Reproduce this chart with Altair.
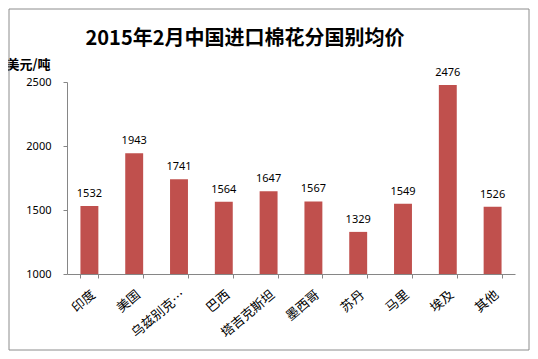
import altair as alt
import pandas as pd

countries = ["印度", "美国", "乌兹别克斯坦", "巴西", "塔吉克斯坦", "墨西哥", "苏丹", "马里", "埃及", "其他"]
prices = [1532, 1943, 1741, 1564, 1647, 1567, 1329, 1549, 2476, 1526]

df = pd.DataFrame({"country": countries, "price": prices})

W, H = 448, 192
FONT_CJK = "Noto Sans CJK SC"
FONT_NUM = "Noto Sans"

base = alt.Chart(df).encode(
    x=alt.X("country:N", sort=countries, title=None,
            scale=alt.Scale(paddingInner=0.6, paddingOuter=0.3),
            axis=alt.Axis(labelAngle=-40, labelAlign="right", labelBaseline="top",
                          labelPadding=10, labelFont=FONT_CJK, labelFontSize=13,
                          labelColor="#000000", labelLimit=67, tickBand="extent",
                          tickSize=4, tickColor="#868686", domainColor="#868686")),
)

bars = base.mark_bar(color="#C0504D").encode(
    y=alt.Y("price:Q", title="美元/吨",
            scale=alt.Scale(domain=[1000, 2500], nice=False, zero=False),
            axis=alt.Axis(values=[1000, 1500, 2000, 2500], grid=False, format="d",
                          labelFont=FONT_NUM, labelFontSize=11, labelColor="#000000",
                          labelPadding=12, tickSize=4, tickColor="#868686",
                          domainColor="#868686",
                          titleAngle=0, titleAlign="left", titleBaseline="alphabetic",
                          titleX=-61, titleY=-14, titleFont=FONT_CJK, titleFontSize=13,
                          titleFontWeight="bold", titleColor="#000000")),
    y2=alt.datum(1000),
)

labels = base.mark_text(font=FONT_NUM, fontSize=11, color="#000000",
                        baseline="alphabetic", dy=-9).encode(
    y=alt.Y("price:Q"),
    text=alt.Text("price:Q", format="d"),
)

frame = alt.Chart(pd.DataFrame({"a": [0]})).mark_rect(
    fill=None, stroke="#8c8c8c", strokeWidth=1).encode(
    x=alt.value(-58), x2=alt.value(462), y=alt.value(-73), y2=alt.value(268))

chart = alt.layer(frame, bars, labels).properties(
    width=W, height=H,
    title=alt.TitleParams("2015年2月中国进口棉花分国别均价", font=FONT_CJK, fontSize=20,
                          fontWeight="bold", color="#000000", anchor="middle", dx=-46,
                          offset=-40),
    autosize=alt.AutoSizeParams(type="none"),
    padding={"left": 59, "top": 74, "right": 15, "bottom": 77},
).configure_view(stroke=None)

chart.save("out.html", embed_options={"renderer": "svg", "actions": False})
